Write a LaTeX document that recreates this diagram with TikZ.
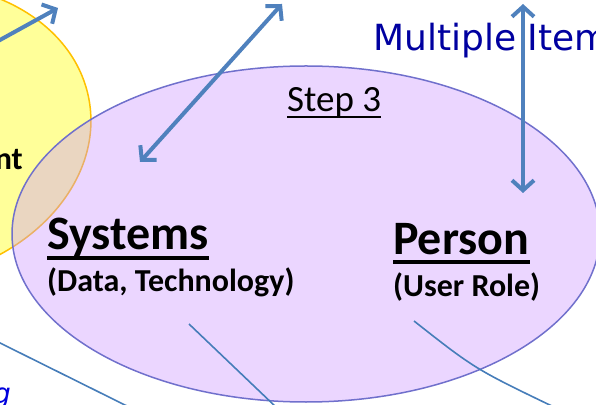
\documentclass[tikz,border=0pt]{standalone}
\usepackage{fontspec}
\setmainfont{Carlito}
\newfontfamily\verdanafont{DejaVu Sans}
\usetikzlibrary{arrows.meta}
\definecolor{arrowblue}{RGB}{79,129,189}
\definecolor{lineblue}{RGB}{70,125,185}
\definecolor{navy}{RGB}{0,0,160}
\definecolor{brightblue}{RGB}{0,0,220}
\definecolor{lemon}{RGB}{255,255,153}
\definecolor{gold}{RGB}{255,192,0}
\definecolor{lilac}{RGB}{204,153,255}
\definecolor{lilacedge}{RGB}{112,112,204}

\begin{document}
\begin{tikzpicture}[x=1pt, y=1pt,
    bigarrow/.style={line width=4pt, arrowblue, -{Straight Barb[length=10pt, width=22pt]}},
    twoarrow/.style={line width=4pt, arrowblue, {Straight Barb[length=10pt, width=22pt]}-{Straight Barb[length=10pt, width=22pt]}},
    thinline/.style={line width=1.6pt, lineblue},
    title/.style={inner sep=0pt, anchor=base west, font=\fontsize{48}{50}\selectfont\bfseries},
    subtitle/.style={inner sep=0pt, anchor=base west, font=\fontsize{32}{34}\selectfont\bfseries}]
    \useasboundingbox (0,0) rectangle (596,404);

    % ellipses
    \draw[line width=1.5pt, gold, fill=lemon, rotate around={10:(-96,271)}] (-96,271) ellipse (188 and 148);
    \fill[lilac, fill opacity=0.4] (306,170) ellipse (294 and 168);
    \draw[line width=1.5pt, lilacedge] (306,170) ellipse (294 and 168);

    % labels
    \node[anchor=base east, inner sep=0pt, font=\fontsize{32}{34}\selectfont\bfseries] (mgmt) at (23,234) {nt};
    \node[anchor=north east, inner sep=0pt, text=brightblue, font=\verdanafont\itshape\fontsize{28}{30}\selectfont] (strat) at (11,16) {g};
    \node[anchor=base west, inner sep=0pt, text=navy, font=\verdanafont\fontsize{36}{38}\selectfont] (multi) at (373,353) {Multiple Items};
    \node[anchor=base west, inner sep=0pt, font=\fontsize{37}{40}\selectfont] (step) at (287,292) {Step 3};
    \draw[line width=2pt] ([yshift=-5pt]step.base west) -- ([yshift=-5pt]step.base east);

    % Systems
    \node[title] (sys) at (47,154) {Systems};
    \draw[line width=4pt] ([yshift=-8pt]sys.base west) -- ([yshift=-8pt]sys.base east);
    \node[subtitle] (sysdata) at (47,112) {(Data, Technology)};
    % Person
    \node[title] (pers) at (393,149) {Person};
    \draw[line width=4pt] ([yshift=-7pt]pers.base west) -- ([yshift=-7pt]pers.base east);
    \node[subtitle] (persrole) at (393,107) {(User Role)};

    % thin lines
    \coordinate (l1a) at (-10,66);
    \coordinate (l1b) at (131,-4);
    \coordinate (l2a) at (189,80);
    \coordinate (l2b) at (277,-4);
    \coordinate (l3a) at (414,83);
    \coordinate (l3b) at (556,-4);
    \draw[thinline] (l1a) -- (l1b);
    \draw[thinline] (l2a) -- (l2b);
    \draw[thinline] (l3a) .. controls (475,35) .. (l3b);

    % arrows
    \coordinate (a1a) at (-20,353);
    \coordinate (a1b) at (58,396);
    \coordinate (a2a) at (140,242);
    \coordinate (a2b) at (282,400);
    \coordinate (a3a) at (523,400);
    \coordinate (a3b) at (523,211);
    \draw[bigarrow] (a1a) -- (a1b);
    \draw[twoarrow] (a2a) -- (a2b);
    \draw[twoarrow] (a3a) -- (a3b);
\end{tikzpicture}
\end{document}
